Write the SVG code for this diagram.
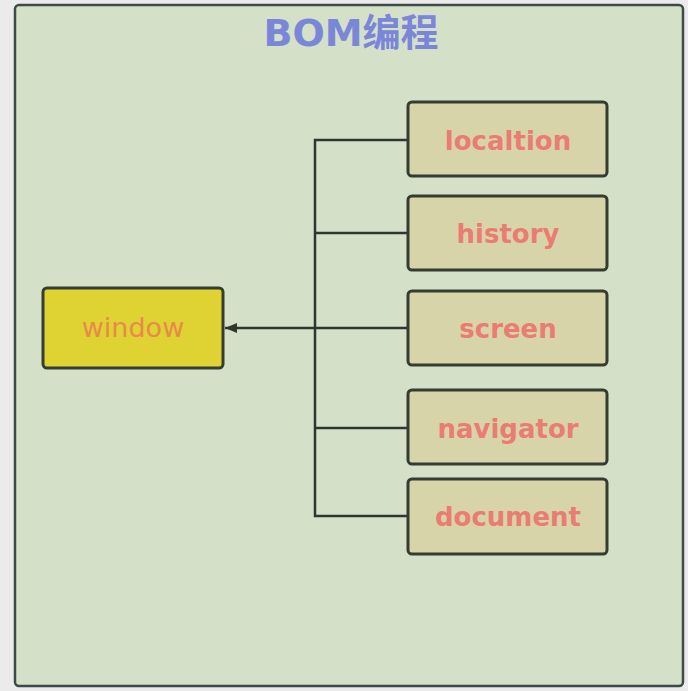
<svg xmlns="http://www.w3.org/2000/svg" width="688" height="691" viewBox="0 0 688 691">
<style>
.child rect{fill:#d8d4a9;stroke:#353d33;stroke-width:3}
.child text{font-family:"DejaVu Sans","Noto Sans",sans-serif;font-weight:bold;font-size:26px;fill:#ea7c73;text-anchor:middle}
.conn{stroke:#2c382f;stroke-width:2.5;fill:none}
</style>
<defs>
<marker id="arr" markerWidth="12" markerHeight="10" refX="12" refY="5" orient="auto" markerUnits="userSpaceOnUse" viewBox="0 0 12 10">
<path d="M0,0 L12,5 L0,10 z" fill="#2c382f"/>
</marker>
</defs>
<rect x="0" y="0" width="688" height="691" fill="#ebebeb"/>
<rect id="frame" x="15" y="5" width="668" height="681" rx="4" fill="#d4e0c8" stroke="#3d4a47" stroke-width="2.5"/>
<text id="title" x="351" y="46" font-family="DejaVu Sans,'Noto Sans CJK SC',sans-serif" font-weight="bold" font-size="38" fill="#7b86d9" text-anchor="middle">BOM编程</text>
<g id="connectors">
<path class="conn" d="M408,140 H315 V516 H408"/>
<path class="conn" d="M315,233 H408"/>
<path class="conn" d="M315,428 H408"/>
<path class="conn" d="M408,328 H225" marker-end="url(#arr)"/>
</g>
<g id="window">
<rect x="43" y="288" width="180" height="80" rx="4" fill="#dfd233" stroke="#353d33" stroke-width="3"/>
<text x="133" y="337" font-family="DejaVu Sans,'Noto Sans',sans-serif" font-size="27" fill="#e88a4a" text-anchor="middle">window</text>
</g>
<g id="localtion" class="child">
<rect x="408" y="102" width="199" height="74" rx="4"/>
<text x="508" y="150">localtion</text>
</g>
<g id="history" class="child">
<rect x="408" y="196" width="199" height="74" rx="4"/>
<text x="508" y="243">history</text>
</g>
<g id="screen" class="child">
<rect x="408" y="291" width="199" height="74" rx="4"/>
<text x="508" y="338">screen</text>
</g>
<g id="navigator" class="child">
<rect x="408" y="390" width="199" height="74" rx="4"/>
<text x="508" y="438">navigator</text>
</g>
<g id="document" class="child">
<rect x="408" y="479" width="199" height="75" rx="4"/>
<text x="508" y="526">document</text>
</g>
</svg>
